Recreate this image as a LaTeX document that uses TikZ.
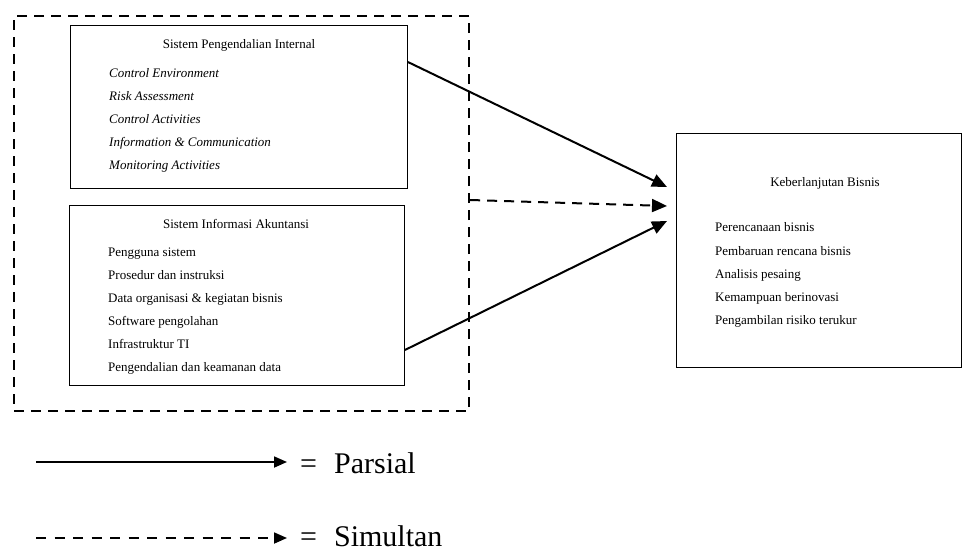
\documentclass[tikz,border=0pt]{standalone}
\usepackage{fontspec}
\setmainfont{Liberation Serif}
\usetikzlibrary{arrows.meta}
\begin{document}
\begin{tikzpicture}[x=1pt,y=-1pt,
  box/.style={draw,line width=0.9pt,inner sep=0pt},
  txt/.style={anchor=base west,inner sep=0pt,font=\fontsize{13}{15}\selectfont},
  ttl/.style={anchor=base,inner sep=0pt,font=\fontsize{13}{15}\selectfont},
  itl/.style={txt,font=\fontsize{13}{15}\selectfont\itshape},
  arr/.style={line width=2pt,-{Triangle[length=15pt,width=13pt]}},
  darr/.style={arr,dash pattern=on 10pt off 7pt},
  outer/.style={line width=2.2pt,dash pattern=on 10pt off 7pt},
  legarr/.style={line width=1.8pt,-{Triangle[length=13pt,width=11pt]}},
  legd/.style={legarr,dash pattern=on 10pt off 8.5pt},
  big/.style={anchor=base west,inner sep=0pt,text depth=0pt,font=\fontsize{30}{36}\selectfont}]
\useasboundingbox (0,0) rectangle (962,552);
% outer dashed group
\node[outer,draw,inner sep=0pt,minimum width=455pt,minimum height=395pt,anchor=north west] (grp) at (13,15) {};
% box 1
\node[box,minimum width=337pt,minimum height=163pt,anchor=north west] (spi) at (70,25) {};
\node[ttl] (spit) at (239,48.5) {Sistem Pengendalian Internal};
\node[itl] (spi1) at (109,77.5) {Control Environment};
\node[itl] (spi2) at (109,100.5) {Risk Assessment};
\node[itl] (spi3) at (109,123.5) {Control Activities};
\node[itl] (spi4) at (109,146.5) {Information \& Communication};
\node[itl] (spi5) at (109,169.5) {Monitoring Activities};
% box 2
\node[box,minimum width=335pt,minimum height=180pt,anchor=north west] (sia) at (69,205) {};
\node[ttl] (siat) at (236,228) {Sistem Informasi Akuntansi};
\node[txt] (sia1) at (108,256) {Pengguna sistem};
\node[txt] (sia2) at (108,279) {Prosedur dan instruksi};
\node[txt] (sia3) at (108,302) {Data organisasi \& kegiatan bisnis};
\node[txt] (sia4) at (108,325) {Software pengolahan};
\node[txt] (sia5) at (108,348) {Infrastruktur TI};
\node[txt] (sia6) at (108,371) {Pengendalian dan keamanan data};
% box 3
\node[box,minimum width=284.5pt,minimum height=234pt,anchor=north west] (kb) at (676,133) {};
\node[ttl] (kbt) at (825,186.5) {Keberlanjutan Bisnis};
\node[txt] (kb1) at (715,231.5) {Perencanaan bisnis};
\node[txt] (kb2) at (715,255) {Pembaruan rencana bisnis};
\node[txt] (kb3) at (715,278) {Analisis pesaing};
\node[txt] (kb4) at (715,301.5) {Kemampuan berinovasi};
\node[txt] (kb5) at (715,324.5) {Pengambilan risiko terukur};
% connector endpoints
\coordinate (s1) at ([yshift=-37pt]spi.north east);
\coordinate (s2) at ([yshift=-145pt]sia.north east);
\coordinate (s3) at ([yshift=-185pt]grp.north east);
\coordinate (t1) at ([xshift=-9pt,yshift=-54pt]kb.north west);
\coordinate (t2) at ([xshift=-9pt,yshift=-73pt]kb.north west);
\coordinate (t3) at ([xshift=-9pt,yshift=-88pt]kb.north west);
\draw[arr] (s1) -- (t1);
\draw[darr] (s3) -- (t2);
\draw[arr] (s2) -- (t3);
% legend
\coordinate (l1a) at (36,462);
\coordinate (l1b) at (287,462);
\coordinate (l2a) at (36,538);
\coordinate (l2b) at (287,538);
\draw[legarr] (l1a) -- (l1b);
\draw[legd] (l2a) -- (l2b);
\node[big] (lp) at (300,473) {=\hspace{17pt}Parsial};
\node[big] (ls) at (300,546) {=\hspace{17pt}Simultan};
\end{tikzpicture}
\end{document}
